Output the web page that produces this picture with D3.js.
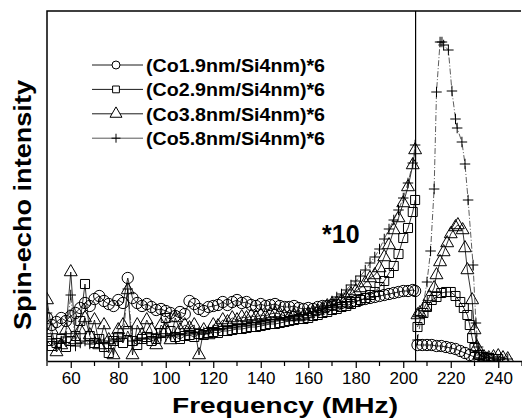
<!DOCTYPE html>
<html>
<head>
<meta charset="utf-8">
<script src="https://cdn.jsdelivr.net/npm/d3@7"></script>
<style>
	body{margin:0;background:#fff;}
	svg{display:block;font-family:"Liberation Sans",Arial,sans-serif;}
</style>
</head>
<body>
<svg id="chart" width="522" height="419"></svg>
<script>
'use strict';
/*
 *
 *	Data (intensity in arbitrary units, left part shown *10)
 *
 */
var seriesNames=["(Co1.9nm/Si4nm)*6","(Co2.9nm/Si4nm)*6","(Co3.8nm/Si4nm)*6","(Co5.8nm/Si4nm)*6"];
var tickLabels=[60,80,100,120,140,160,180,200,220,240];
var minorTicks=[50,70,90,110,130,150,170,190,210,230,250];

var freqLeft=[50,52,54,56,58,60,62,64,66,68,70,72,74,76,78,80,82,84,86,88,
	90,92,94,96,98,100,102,104,106,108,110,112,114,116,118,120,122,124,126,128,
	130,132,134,136,138,140,142,144,146,148,150,152,154,156,158,160,162,164,166,168,
	170,172,174,176,178,180,182,184,186,188,190,192,194,196,198,200,202,204,205];

var circleLeft=[43,36,39,43,40,45,48,53,58,55,62,65,60,57,55,61,58,83,63,58,
	55,57,54,51,52,50,48,45,49,47,60,57,52,50,54,55,56,59,56,59,
	61,58,59,56,55,57,55,56,57,55,54,54,55,53,52,53,52,54,55,55,
	56,56,58,59,59,60,61,62,63,64,65,66,67,68,69,70,70,71,70];
var squareLeft=[20,15,18,22,14,20,25,40,77,25,18,22,14,8,20,24,18,30,20,16,
	22,24,20,22,28,43,30,24,22,25,26,24,27,26,28,29,28,30,30,31,
	32,32,33,34,34,35,36,37,37,38,39,40,41,42,42,43,45,46,48,49,
	51,52,54,55,57,59,61,63,66,69,74,80,88,95,107,123,133,149,161];
var triangleLeft=[61,31,9,16,31,89,21,31,43,26,41,16,36,21,6,31,36,71,6,36,
	26,41,31,16,36,31,21,43,31,36,33,36,6,31,26,36,35,41,39,43,
	41,44,43,45,44,46,45,47,48,47,45,44,46,44,45,47,49,50,52,55,
	57,58,60,63,67,70,73,78,83,86,93,104,116,131,143,158,174,196,211];
var plusLeft=[48,22,18,20,24,66,15,18,20,17,19,21,18,20,22,21,24,72,20,21,
	23,22,24,23,25,24,26,25,27,26,28,27,29,29,30,31,31,32,33,33,
	34,35,35,36,37,37,38,39,40,41,42,43,44,45,46,48,49,51,53,55,
	60,64,67,71,76,80,85,91,98,104,112,122,132,141,151,163,178,198,216];

var circleRightF=[206,208,210,212,214,216,218,220,222,224,226,228,230,232,234,236];
var circleRightV=[16,16,16,16,15,15,14,13,12,10,8,6,4,3,2,2];
var squareRightF=[206,207,208.5,210,212,214,216,218,220,222,224,225.5,227,228,229,230,232,234,236,238,240];
var squareRightV=[34,41,48,54,61,64,68,69,69,65,59,53,46,36,23,13,6,4,3,2,2];
var triangleRightF=[206,207,209,211,213,214,215.5,217,218.5,220,222,223,225,226,227,229,230,231,232,234,236,238,240,242,244];
var triangleRightV=[46,48,54,64,73,86,99,109,118,127,134,136,131,113,91,61,31,14,6,4,3,4,5,3,2];
var plusRightF=[206,210,211.5,213,214,215.5,216.3,217,219,220.5,222,222.7,224.7,226,227.3,229.4,230.6,231.5,233,235,238,241,244];
var plusRightV=[21,79,110,172,269,319,319,316,311,270,242,233,219,197,161,96,38,14,6,4,3,3,2];

var splitFreq=205.2;

/*
 *
 *	Scales
 *
 */
var svg=d3.select("#chart");
var x=d3.scaleLinear().domain([50,250]).range([47,522]);
var y=d3.scaleLinear().domain([0,350]).range([361,11]);

// thin plus symbol
var symbolPlus={draw:function(ctx,size){
	var r=Math.sqrt(size)/2;
	ctx.moveTo(-r,0);ctx.lineTo(r,0);
	ctx.moveTo(0,-r);ctx.lineTo(0,r);
}};
var symbolTypes=[d3.symbolCircle,d3.symbolSquare,d3.symbolTriangle,symbolPlus];
var plotSizes=[100,82,72,110];
var legendSizes=[50,46,62,80];
var dashes=[null,null,null,"6,2,1,2"];

function zip(f,v){
	return f.map(function(d,i){return [d,v[i]];});
}
var series=[
	[zip(freqLeft,circleLeft),zip(circleRightF,circleRightV)],
	[zip(freqLeft,squareLeft),zip(squareRightF,squareRightV)],
	[zip(freqLeft,triangleLeft),zip(triangleRightF,triangleRightV)],
	[zip(freqLeft,plusLeft),zip(plusRightF,plusRightV)]
];

/*
 *
 *	Plot
 *
 */
svg.append("clipPath").attr("id","clip").append("rect")
	.attr("x",47).attr("y",11).attr("width",475).attr("height",350);

var plot=svg.append("g").attr("clip-path","url(#clip)");
var line=d3.line().x(function(d){return x(d[0]);}).y(function(d){return y(d[1]);});

series.forEach(function(parts,s){
	parts.forEach(function(pts){
		plot.append("path").datum(pts)
			.attr("d",line)
			.attr("fill","none")
			.attr("stroke",s==3?"#333":"#000")
			.attr("stroke-width",0.8)
			.attr("stroke-dasharray",dashes[s]);
		plot.selectAll(null).data(pts).enter().append("path")
			.attr("transform",function(d){return "translate("+x(d[0])+","+y(d[1])+")";})
			.attr("d",d3.symbol().type(symbolTypes[s]).size(plotSizes[s]))
			.attr("fill","none")
			.attr("stroke","#000")
			.attr("stroke-width",1);
	});
});

// separator between the *10 part and the rest
svg.append("line")
	.attr("x1",x(splitFreq)).attr("x2",x(splitFreq))
	.attr("y1",y(350)).attr("y2",y(0))
	.attr("stroke","#000").attr("stroke-width",1.2);

/*
 *
 *	Axes and frame
 *
 */
svg.append("path")
	.attr("d","M47,361V11H521")
	.attr("fill","none").attr("stroke","#000").attr("stroke-width",1.5);

var xAxis=svg.append("g").attr("transform","translate(0,361)")
	.call(d3.axisBottom(x).tickValues(tickLabels).tickSize(7).tickSizeOuter(0).tickPadding(4));
xAxis.select(".domain").attr("stroke-width",1.5);
xAxis.selectAll(".tick line").attr("stroke-width",1.2);
xAxis.selectAll("text").attr("font-size",17).attr("font-family","Liberation Sans, Arial").attr("fill","#000");

svg.append("g").selectAll("line").data(minorTicks).enter().append("line")
	.attr("x1",function(d){return x(d);}).attr("x2",function(d){return x(d);})
	.attr("y1",361).attr("y2",366)
	.attr("stroke","#000").attr("stroke-width",1.2);

svg.append("text")
	.attr("x",172).attr("y",413)
	.attr("font-size",22).attr("font-weight","bold")
	.attr("textLength",226).attr("lengthAdjust","spacingAndGlyphs")
	.text("Frequency (MHz)");

svg.append("text")
	.attr("transform","translate(31,330) rotate(-90)")
	.attr("font-size",24).attr("font-weight","bold")
	.attr("textLength",250).attr("lengthAdjust","spacingAndGlyphs")
	.text("Spin-echo intensity");

svg.append("text")
	.attr("x",322).attr("y",243)
	.attr("font-size",25).attr("font-weight","bold")
	.text("*10");

/*
 *
 *	Legend
 *
 */
var legend=svg.append("g").selectAll("g").data(seriesNames).enter().append("g")
	.attr("transform",function(d,i){return "translate(0,"+(65+i*24.4)+")";});
legend.append("line")
	.attr("x1",92).attr("x2",143).attr("y1",0).attr("y2",0)
	.attr("stroke",function(d,i){return i==3?"#444":"#000";})
	.attr("stroke-width",0.9);
legend.append("path")
	.attr("transform","translate(116,0)")
	.attr("d",function(d,i){return d3.symbol().type(symbolTypes[i]).size(legendSizes[i])();})
	.attr("fill","#fff").attr("stroke","#000").attr("stroke-width",1);
legend.append("text")
	.attr("x",146).attr("y",7)
	.attr("font-size",19).attr("font-weight","bold")
	.attr("textLength",179).attr("lengthAdjust","spacingAndGlyphs")
	.text(function(d){return d;});
</script>
</body>
</html>
